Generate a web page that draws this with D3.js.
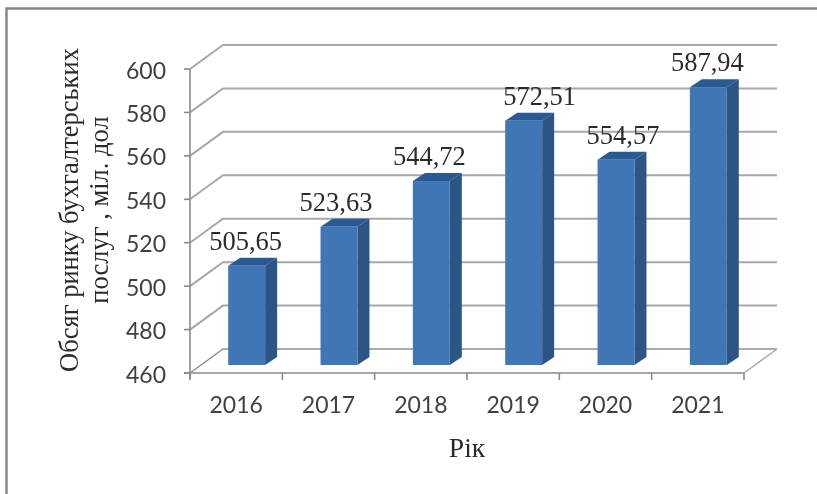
<!DOCTYPE html>
<html><head><meta charset="utf-8">
<script src="https://cdn.jsdelivr.net/npm/d3@7"></script>
<style>html,body{margin:0;padding:0;background:#fff}svg{display:block;filter:blur(.6px)}</style>
</head><body><div id="c"></div>
<script>
const years = ["2016","2017","2018","2019","2020","2021"];
const values = [505.65,523.63,544.72,572.51,554.57,587.94];
const valueLabels = ["505,65","523,63","544,72","572,51","554,57","587,94"];
const yTicks = [460,480,500,520,540,560,580,600];
const labelNudge = [-1,-3,-2,16,7,-1];
const yTitleLines = ["Обсяг ринку бухгалтерських","послуг , міл. дол"];
const xTitle = "Рік";

const W=817,H=494;
const svg=d3.select("#c").append("svg").attr("width",W).attr("height",H);
svg.append("path").attr("fill","none").attr("stroke","#858585").attr("stroke-width",2.4)
  .attr("d","M6.5,500V8.5H825");

const y=d3.scaleLinear().domain([460,600]).range([373,69]);
const x=d3.scaleBand().domain(years).range([190,744]).paddingInner(.6).paddingOuter(.3);
const depth={x:33,y:-24}, mid={x:10.5,y:-8}, side={x:12,y:-8};

const grid=svg.append("g");
yTicks.forEach(t=>{
  const yy=y(t);
  const c=t===460?"#8f8f8f":"#a8a8a8";
  grid.append("path").attr("fill","none").attr("stroke",c).attr("stroke-width",t===460?1.4:2)
    .attr("d",`M190,${yy}L${190+depth.x},${yy+depth.y}H${744+depth.x}`);
});
grid.append("path").attr("fill","none").attr("stroke","#a8a8a8").attr("stroke-width",1.5)
  .attr("d",`M744,${y(460)}L${744+depth.x},${y(460)+depth.y}`);

const axes=svg.append("g").attr("stroke","#8a8a8a").attr("stroke-width",1.6).attr("fill","none");
axes.append("path").attr("d",`M190,${y(600)}V${y(460)+6}`);
axes.append("path").attr("d",`M184,${y(460)}H744`);
yTicks.forEach(t=>axes.append("path").attr("d",`M184,${y(t)}H190`));
const step=x.step();
d3.range(7).forEach(i=>axes.append("path").attr("d",`M${190+i*step},${y(460)}v7`));

const bars=svg.append("g");
years.forEach((yr,i)=>{
  const x0=x(yr)+mid.x, w=x.bandwidth(), top=y(values[i])+mid.y, bot=y(460)+mid.y;
  bars.append("path").attr("fill","#2c5485")
    .attr("d",`M${x0+w},${bot}L${x0+w+side.x},${bot+side.y}V${top+side.y}L${x0+w},${top}Z`);
  bars.append("path").attr("fill","#2a5a94")
    .attr("d",`M${x0},${top}L${x0+side.x},${top+side.y}H${x0+w+side.x}L${x0+w},${top}Z`);
  bars.append("rect").attr("x",x0).attr("y",top).attr("width",w).attr("height",bot-top).attr("fill","#4176b6");
});

const serif="'Liberation Serif',serif", sans="Lato,sans-serif";
const text=svg.append("g").attr("fill","#333");
years.forEach((yr,i)=>{
  text.append("text").attr("x",x(yr)+x.bandwidth()/2).attr("y",y(460)+40)
    .attr("text-anchor","middle").attr("font-family",sans).attr("font-size",23).attr("fill","#404040").text(yr);
  text.append("text").attr("x",x(yr)+x.bandwidth()/2+mid.x+labelNudge[i]).attr("y",y(values[i])+mid.y+side.y-8)
    .attr("text-anchor","middle").attr("font-family",serif).attr("font-size",26.5).attr("fill","#2b2b2b").text(valueLabels[i]);
});
yTicks.forEach(t=>text.append("text").attr("x",166).attr("y",y(t)+9.5)
  .attr("text-anchor","end").attr("font-family",sans).attr("font-size",23).attr("fill","#404040").text(t));
text.append("text").attr("x",467).attr("y",457).attr("text-anchor","middle")
  .attr("font-family",serif).attr("font-size",27.5).attr("fill","#2b2b2b").text(xTitle);
yTitleLines.forEach((l,i)=>text.append("text")
  .attr("transform",`translate(${78+i*30},210) rotate(-90)`).attr("text-anchor","middle")
  .attr("font-family",serif).attr("font-size",26.5).attr("fill","#2b2b2b").text(l));
</script></body></html>
